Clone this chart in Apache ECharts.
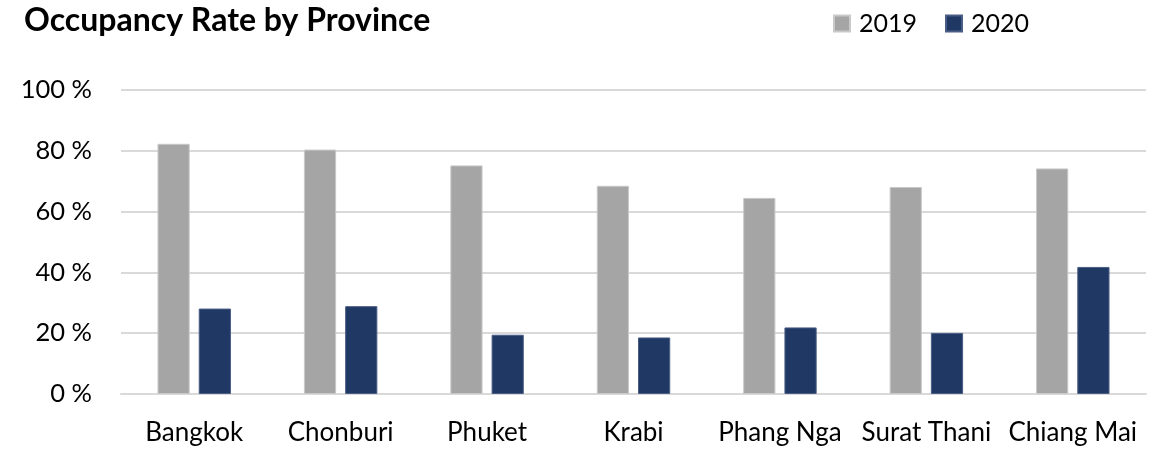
<!DOCTYPE html>
<html>
<head>
<meta charset="utf-8">
<script src="https://cdn.jsdelivr.net/npm/echarts@6/dist/echarts.min.js"></script>
<style>
  html, body { margin: 0; padding: 0; background: #fff; }
  #chart { width: 1158px; height: 449px; }
</style>
</head>
<body>
<div id="chart"></div>
<script>
// province names on the x axis
const provinces = ['Bangkok', 'Chonburi', 'Phuket', 'Krabi', 'Phang Nga', 'Surat Thani', 'Chiang Mai']
// occupancy rate, percent
const rate2019 = [82.3, 80.4, 75.2, 68.5, 64.5, 68.1, 74.2]
const rate2020 = [28.1, 28.9, 19.5, 18.6, 21.9, 20.1, 41.8]

const fontFamily = 'Lato, "Noto Sans", sans-serif'

const chart = echarts.init(document.getElementById('chart'))
chart.setOption({
  animation: false,
  title: {
    text: 'Occupancy Rate by Province',
    left: 19,
    top: 0,
    textStyle: {
      fontFamily: fontFamily,
      fontSize: 32,
      fontWeight: 'bold',
      color: '#000'
    }
  },
  legend: {
    data: ['2019', '2020'],
    left: 828,
    top: 6,
    itemWidth: 16,
    itemHeight: 16,
    itemGap: 28,
    icon: 'rect',
    textStyle: {
      fontFamily: fontFamily,
      fontSize: 25,
      color: '#000',
      padding: [0, 0, 0, 4]
    }
  },
  grid: {
    left: 121,
    right: 12,
    top: 90,
    bottom: 55
  },
  xAxis: {
    type: 'category',
    data: provinces,
    axisLine: { lineStyle: { color: '#d9d9d9', width: 2 } },
    axisTick: { show: false },
    axisLabel: {
      fontFamily: fontFamily,
      fontSize: 26,
      color: '#000',
      margin: 26,
      interval: 0
    }
  },
  yAxis: {
    type: 'value',
    min: 0,
    max: 100,
    interval: 20,
    axisLine: { show: false },
    axisTick: { show: false },
    splitLine: { lineStyle: { color: '#d9d9d9', width: 2 } },
    axisLabel: {
      fontFamily: fontFamily,
      fontSize: 25.5,
      color: '#000',
      margin: 29,
      formatter: '{value} %'
    }
  },
  series: [
    {
      name: '2019',
      type: 'bar',
      data: rate2019,
      barWidth: '22%',
      barGap: '28%',
      itemStyle: { color: '#a5a5a5', borderColor: '#c9c9c9', borderWidth: 1 }
    },
    {
      name: '2020',
      type: 'bar',
      data: rate2020,
      barWidth: '22%',
      itemStyle: { color: '#203864', borderColor: '#4a5d85', borderWidth: 1 }
    }
  ]
})
</script>
</body>
</html>
